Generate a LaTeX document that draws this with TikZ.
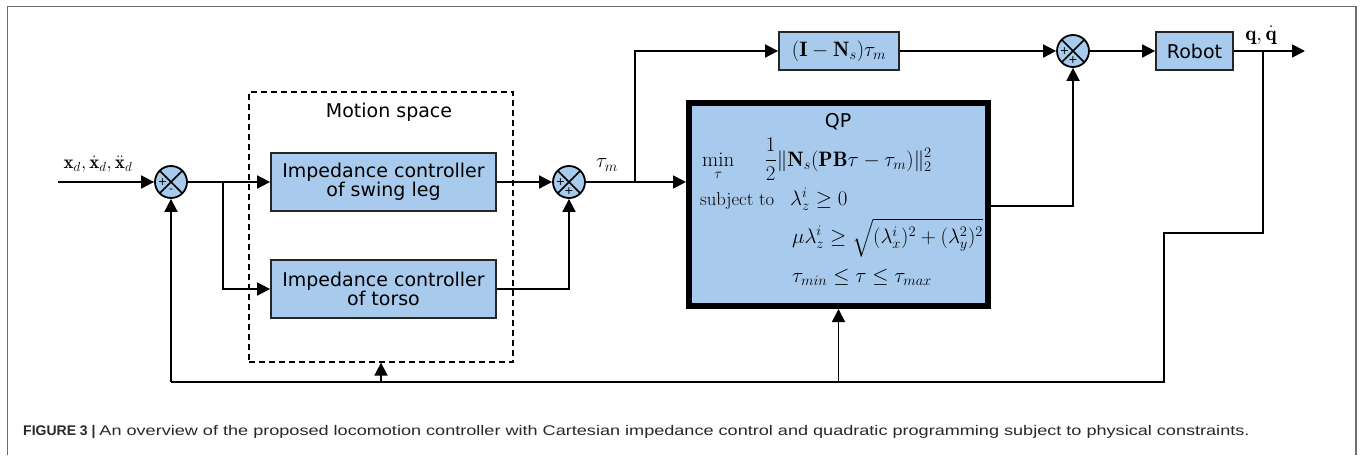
\documentclass[tikz,border=0pt]{standalone}
\usepackage{fontspec}
\usepackage{amsmath}
\usetikzlibrary{arrows.meta}
\newfontfamily\dvs{DejaVu Sans}
\newfontfamily\capf{Liberation Sans}
\definecolor{boxblue}{RGB}{168,203,237}
\definecolor{framegray}{RGB}{110,110,110}
\definecolor{captext}{RGB}{40,40,40}
\newcommand{\mymathsc}[1]{\scalebox{1.21}{#1}}
\newcommand{\mylblsc}[1]{\scalebox{1.1}{#1}}
\begin{document}
\begin{tikzpicture}[x=1pt,y=-1pt,
  conn/.style={line width=1.8pt, draw=black},
  arr/.style={conn,-{Triangle[length=13pt,width=13pt]}},
  blk/.style={draw=black!85, line width=1.8pt, fill=boxblue, inner sep=0pt, align=center, font=\dvs\fontsize{19}{19.5}\selectfont},
  sumj/.style={circle, draw=black, line width=1.8pt, fill=boxblue, minimum size=32pt, inner sep=0pt,
    path picture={\draw[line width=1.5pt] (path picture bounding box.north west) -- (path picture bounding box.south east)
      (path picture bounding box.north east) -- (path picture bounding box.south west);}},
  sgn/.style={font=\dvs\fontsize{11}{11}\selectfont, inner sep=0pt},
  mth/.style={font=\fontsize{17.28}{20}\selectfont, inner sep=0pt},
  lbl/.style={font=\dvs\fontsize{19}{19.5}\selectfont, inner sep=0pt},
]
\useasboundingbox (0,0) rectangle (1362,455);
\draw[framegray, line width=1.5pt] (7.5,455) -- (7.5,6.5) -- (1356,6.5) -- (1356,455);

% dashed motion space
\node[draw, dash pattern=on 6pt off 4pt, line width=1.3pt, minimum width=264pt, minimum height=270pt, inner sep=0pt] (ms) at (381,227) {};
\node[lbl] (mslbl) at (389,112) {Motion space};

% blocks
\node[blk, minimum width=225pt, minimum height=58pt] (b1) at (383.5,182) {Impedance controller\\of swing leg};
\node[blk, minimum width=225pt, minimum height=58pt] (b2) at (383.5,289) {Impedance controller\\of torso};
\node[blk, minimum width=120pt, minimum height=38pt, font=\fontsize{17.28}{20}\selectfont] (nt) at (839,51) {\mymathsc{$(\mathbf{I}-\mathbf{N}_s)\tau_m$}};
\node[blk, minimum width=77pt, minimum height=38pt] (rb) at (1194.5,51) {Robot};
\node[draw=black, line width=6pt, fill=boxblue, minimum width=299pt, minimum height=203pt, inner sep=0pt] (qp) at (838.5,204.5) {};

% QP contents
\node[lbl] (qpt) at (838,122) {QP};
\node[mth, anchor=base west] (l1) at (702,166) {\mymathsc{$\displaystyle\min_{\tau}\quad\;\frac{1}{2}\|\mathbf{N}_s(\mathbf{PB}\tau-\tau_m)\|_2^2$}};
\node[mth, anchor=base west] (l2a) at (700,205) {\scalebox{1.08}{subject to}};
\node[mth, anchor=base west] (l2b) at (790,205) {\mymathsc{$\lambda_z^i\geq 0$}};
\node[mth, anchor=base west] (l3) at (792,243) {\mymathsc{$\mu\lambda_z^i\geq\sqrt{(\lambda_x^i)^2+(\lambda_y^2)^2}$}};
\node[mth, anchor=base west] (l4) at (792,282) {\mymathsc{$\tau_{min}\leq\tau\leq\tau_{max}$}};

% summing junctions
\node[sumj] (s1) at (171,182) {};
\node[sgn, xshift=-8.5pt] at (s1) {+};
\node[sgn, yshift=-9pt] at (s1) {-};
\node[sumj] (s2) at (569,182) {};
\node[sgn, xshift=-8.5pt] at (s2) {+};
\node[sgn, yshift=-9pt] at (s2) {+};
\node[sumj] (s3) at (1073,51) {};
\node[sgn, xshift=-8.5pt] at (s3) {+};
\node[sgn, yshift=-9pt] at (s3) {+};

% labels
\node[mth] (xin) at (98,164) {\mylblsc{$\mathbf{x}_d,\dot{\mathbf{x}}_d,\ddot{\mathbf{x}}_d$}};
\node[mth] (taum) at (607,165) {\mymathsc{$\tau_m$}};
\node[mth] (qout) at (1261,35) {\mymathsc{$\mathbf{q},\dot{\mathbf{q}}$}};

% coordinates
\coordinate (in) at (58,182);
\coordinate (j1) at (223,182);
\coordinate (j2) at (635,182);
\coordinate (out) at (1305,51);
\coordinate (f1) at (1263,51);
\coordinate (f2) at (1263,233);
\coordinate (f3) at (1164,233);
\coordinate (f4) at (1164,382);
\coordinate (f5) at (171,382);
\coordinate (f6) at (381,382);
\coordinate (f7) at (838.5,382);
\path (qp.east) ++(0,1.5) coordinate (qpo);

% connectors
\draw[arr] (in) -- (s1);
\draw[conn] (s1) -- (j1);
\draw[arr] (j1) -- (b1);
\draw[arr] (j1) |- (b2.west);
\draw[arr] (b1) -- (s2);
\draw[arr] (b2.east) -| (s2.south);
\draw[arr] (s2) -- (s2 -| qp.west);
\draw[arr] (j2) |- (nt.west);
\draw[arr] (nt) -- (s3);
\draw[arr] (qpo) -| (s3.south);
\draw[arr] (s3) -- (rb);
\draw[arr] (rb) -- (out);
\draw[conn] (f1) -- (f2) -- (f3) -- (f4) -- (f5);
\draw[arr] (f5) -- (s1);
\draw[arr] (f6) -- (ms.south);
\draw[arr] (f7) -- (qp.south);

% caption
\node[anchor=base west, inner sep=0pt, text=captext] (cap) at (23,435) {\capf\fontsize{14}{16}\selectfont\textbf{FIGURE 3 |} \resizebox{1150pt}{\height}{An overview of the proposed locomotion controller with Cartesian impedance control and quadratic programming subject to physical constraints.}};
\end{tikzpicture}
\end{document}
